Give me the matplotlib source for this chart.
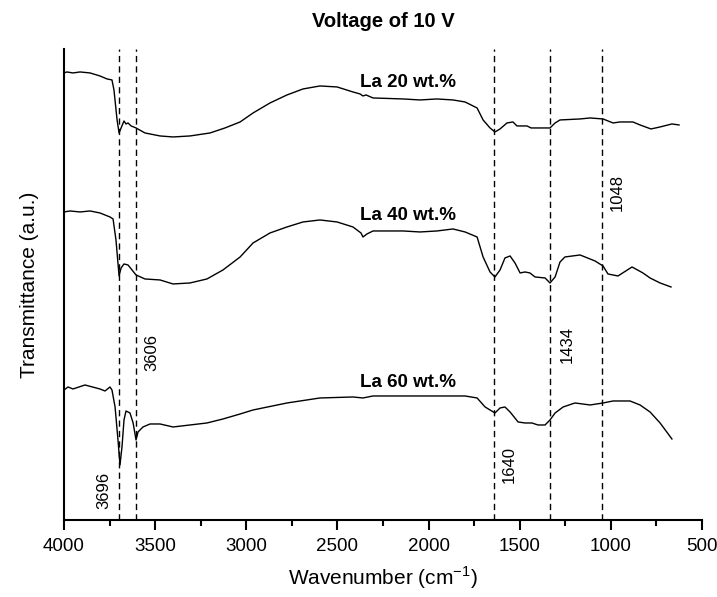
import matplotlib
matplotlib.use("Agg")
import matplotlib.pyplot as plt
import numpy as np

plt.rcParams['font.family'] = ['Liberation Sans', 'DejaVu Sans']

# FTIR spectra, offset for clarity (arbitrary units)
wn_20 = [4000, 3984, 3951, 3912, 3857, 3803, 3764, 3737, 3726, 3709, 3698, 3687, 3671, 3660,
         3649, 3632, 3605, 3556, 3473, 3402, 3309, 3199, 3117, 3034, 2963, 2870, 2777, 2689,
         2596, 2502, 2415, 2376, 2360, 2343, 2305, 2140, 2047, 1954, 1866, 1800, 1734, 1701,
         1663, 1636, 1608, 1570, 1537, 1515, 1460, 1438, 1334, 1306, 1279, 1169, 1114, 1043,
         988, 950, 879, 840, 780, 730, 665, 626]
t_20 = [4.47, 4.48, 4.47, 4.48, 4.47, 4.44, 4.41, 4.40, 4.30, 4.00, 3.87, 3.92, 3.99, 3.96,
        3.97, 3.94, 3.92, 3.87, 3.84, 3.83, 3.84, 3.87, 3.92, 3.98, 4.07, 4.17, 4.25, 4.31,
        4.34, 4.33, 4.28, 4.26, 4.24, 4.25, 4.22, 4.21, 4.20, 4.21, 4.20, 4.18, 4.12, 4.00,
        3.92, 3.88, 3.91, 3.97, 3.98, 3.94, 3.94, 3.92, 3.92, 3.97, 4.00, 4.01, 4.02, 4.01,
        3.97, 3.98, 3.98, 3.95, 3.91, 3.93, 3.96, 3.95]

wn_40 = [4000, 3967, 3912, 3857, 3803, 3748, 3731, 3715, 3698, 3687, 3671, 3649, 3605, 3556,
         3473, 3402, 3309, 3216, 3128, 3034, 2963, 2870, 2777, 2689, 2596, 2502, 2415, 2371,
         2360, 2338, 2305, 2140, 2047, 1954, 1866, 1800, 1734, 1701, 1663, 1636, 1608, 1581,
         1553, 1526, 1498, 1471, 1444, 1416, 1361, 1334, 1306, 1279, 1252, 1169, 1087, 1043,
         1016, 961, 884, 824, 785, 730, 670]
t_40 = [3.08, 3.09, 3.08, 3.09, 3.07, 3.03, 3.01, 2.80, 2.44, 2.52, 2.56, 2.55, 2.45, 2.41,
        2.40, 2.36, 2.37, 2.41, 2.50, 2.63, 2.77, 2.87, 2.93, 2.98, 3.00, 2.98, 2.93, 2.87,
        2.83, 2.86, 2.89, 2.89, 2.88, 2.89, 2.91, 2.88, 2.83, 2.63, 2.48, 2.43, 2.50, 2.62,
        2.64, 2.57, 2.47, 2.48, 2.47, 2.43, 2.42, 2.37, 2.43, 2.58, 2.63, 2.65, 2.59, 2.54,
        2.46, 2.44, 2.53, 2.47, 2.42, 2.37, 2.33]

wn_60 = [4000, 3978, 3951, 3885, 3803, 3775, 3748, 3737, 3720, 3704, 3693, 3682, 3671, 3660,
         3638, 3621, 3605, 3594, 3567, 3528, 3473, 3402, 3309, 3216, 3128, 3034, 2963, 2777,
         2596, 2415, 2360, 2305, 2047, 1800, 1734, 1690, 1636, 1608, 1581, 1553, 1509, 1471,
         1433, 1400, 1361, 1334, 1306, 1262, 1197, 1114, 1043, 988, 895, 840, 785, 730, 665]
t_60 = [1.30, 1.33, 1.31, 1.35, 1.31, 1.29, 1.33, 1.30, 1.13, 0.80, 0.55, 0.73, 1.00, 1.09,
        1.07, 0.97, 0.80, 0.88, 0.93, 0.96, 0.96, 0.93, 0.95, 0.97, 1.01, 1.06, 1.10, 1.17,
        1.22, 1.23, 1.22, 1.24, 1.24, 1.24, 1.22, 1.13, 1.07, 1.12, 1.13, 1.08, 0.98, 0.97,
        0.97, 0.95, 0.95, 1.00, 1.07, 1.13, 1.17, 1.15, 1.17, 1.19, 1.19, 1.15, 1.08, 0.97, 0.81]

series_names = ["La 20 wt.%", "La 40 wt.%", "La 60 wt.%"]
name_pos = [(2113, 4.37), (2113, 3.04), (2113, 1.37)]

peak_lines = [3696, 3606, 1640, 1336, 1048]
peak_labels = ["3696", "3606", "1640", "1434", "1048"]
peak_label_pos = [(3781, 0.30), (3517, 1.67), (1559, 0.55), (1241, 1.75), (966, 3.27)]

fig = plt.figure(figsize=(7.17, 5.97), dpi=100)
ax = fig.add_axes([0.0893, 0.129, 0.8898, 0.789])

for wn, t in [(wn_20, t_20), (wn_40, t_40), (wn_60, t_60)]:
    ax.plot(wn, t, color='black', lw=1.0)

for p in peak_lines:
    ax.axvline(p, color='black', lw=1.0, dashes=(4.5, 3))

for name, (x, y) in zip(series_names, name_pos):
    ax.text(x, y, name, ha='center', va='center', fontsize=13.5, fontweight='bold')

for lab, (x, y) in zip(peak_labels, peak_label_pos):
    ax.text(x, y, lab, ha='center', va='center', rotation=90, fontsize=12)

ax.set_xlim(4000, 500)
ax.set_ylim(0, 4.71)
ax.set_xticks(np.arange(4000, 499, -500))
ax.set_xticks(np.arange(3750, 500, -500), minor=True)
ax.set_yticks([])
ax.tick_params(axis='x', which='major', direction='out', length=7, width=1.5, labelsize=13.5, pad=6)
ax.tick_params(axis='x', which='minor', direction='out', length=4, width=1.5)
ax.spines['top'].set_visible(False)
ax.spines['right'].set_visible(False)
ax.spines['left'].set_linewidth(1.5)
ax.spines['bottom'].set_linewidth(1.5)

ax.set_xlabel("Wavenumber (cm$^{\\mathregular{-1}}$)", fontsize=15, labelpad=7)
ax.set_ylabel("Transmittance (a.u.)", fontsize=15, labelpad=18)
ax.set_title("Voltage of 10 V", fontsize=14.5, fontweight='bold', pad=16)

fig.savefig("out.png", dpi=100)
